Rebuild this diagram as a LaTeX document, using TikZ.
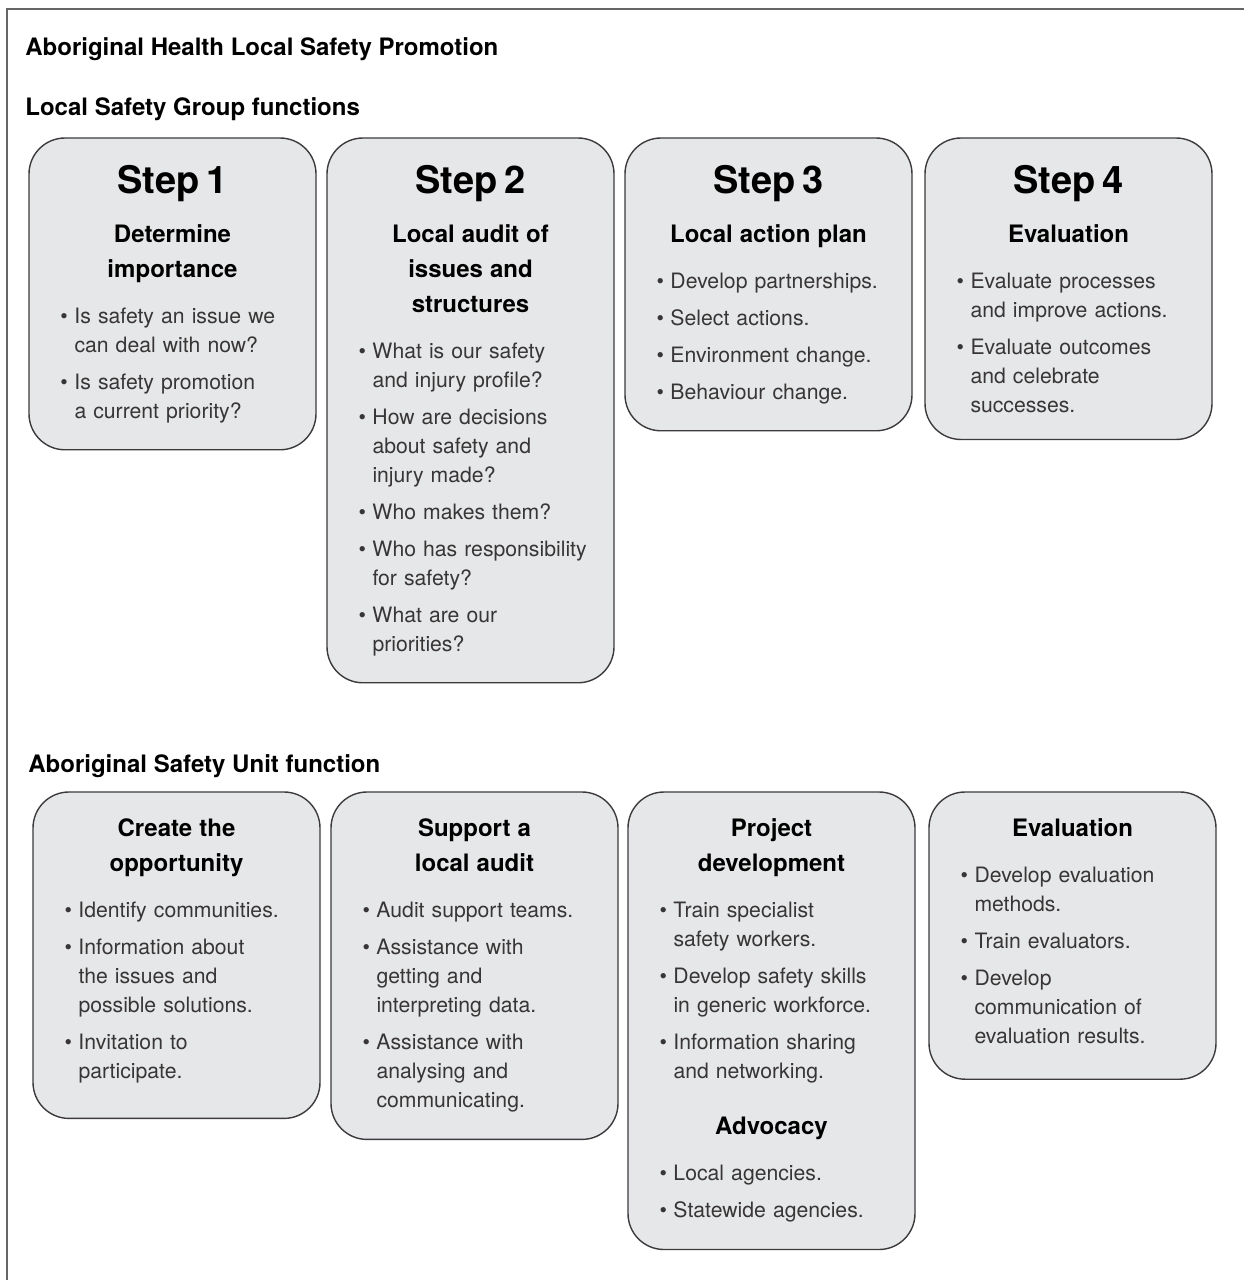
\documentclass[tikz,border=0pt]{standalone}
\usepackage{fontspec}
\setmainfont{TeX Gyre Heros}
\usetikzlibrary{positioning}

\definecolor{boxgray}{RGB}{230,231,232}
\definecolor{edgegray}{RGB}{60,58,60}
\definecolor{bodygray}{RGB}{55,53,53}

% box contents
\newcommand{\steptitle}[1]{{\centering\fontsize{19}{22}\selectfont\bfseries #1\par}\vspace{7pt}}
\newcommand{\heading}[1]{{\centering\fontsize{12}{17.5}\selectfont\bfseries #1\par}\vspace{8.5pt}}
\newcommand{\bitem}[1]{{\fontsize{10.6}{14.5}\selectfont\let\\\newline\leftskip=3.5pt\hangindent=7pt\hangafter=1\noindent{\color{bodygray}\makebox[7pt][l]{\textbullet}#1}\par}\vspace{4pt}}

\begin{document}
\begin{tikzpicture}[
        x=0.5pt, y=-0.5pt,
        title/.style={anchor=base west, inner sep=0pt, font=\fontsize{12}{14}\selectfont\bfseries},
        stepbox/.style={draw=edgegray, line width=0.7pt, fill=boxgray, rounded corners=18pt, text width=119pt, inner xsep=12.25pt, inner ysep=13.5pt, outer sep=0pt, align=left, anchor=north west, font=\fontsize{10.6}{14.5}\selectfont},
        frameline/.style={draw=black!60, line width=1pt}
    ]
        \useasboundingbox (0,0) rectangle (1244,1280);
        \draw [frameline] (7,1280) |- (1244,9);

        % Titles
        \node [title] (main) at (25,55) {Aboriginal Health Local Safety Promotion};
        \node [title] (group) at (25,115) {Local Safety Group functions};

        % Local Safety Group steps
        \node [stepbox] (s1) at (29,138) {\steptitle{Step 1}\heading{Determine\\importance}%
            \bitem{Is safety an issue we\\can deal with now?}\bitem{Is safety promotion\\a current priority?}};
        \node [stepbox, below right=0pt and 5.5pt of s1.north east] (s2) {\steptitle{Step 2}\heading{Local audit of\\issues and\\structures}%
            \bitem{What is our safety\\and injury profile?}\bitem{How are decisions\\about safety and\\injury made?}%
            \bitem{Who makes them?}\bitem{Who has responsibility\\for safety?}\bitem{What are our\\priorities?}};
        \node [stepbox, below right=0pt and 5.5pt of s2.north east] (s3) {\steptitle{Step 3}\heading{Local action plan}%
            \bitem{Develop partnerships.}\bitem{Select actions.}\bitem{Environment change.}\bitem{Behaviour change.}};
        \node [stepbox, below right=0pt and 6.5pt of s3.north east] (s4) {\steptitle{Step 4}\heading{Evaluation}%
            \bitem{Evaluate processes\\and improve actions.}\bitem{Evaluate outcomes\\and celebrate\\successes.}};

        % Aboriginal Safety Unit
        \node [title] (unit) at (28,772) {Aboriginal Safety Unit function};
        \node [stepbox] (u1) at (33,792) {\heading{Create the\\opportunity}%
            \bitem{Identify communities.}\bitem{Information about\\the issues and\\possible solutions.}\bitem{Invitation to\\participate.}\vspace{4pt}};
        \node [stepbox, below right=0pt and 5.5pt of u1.north east] (u2) {\heading{Support a\\local audit}%
            \bitem{Audit support teams.}\bitem{Assistance with\\getting and\\interpreting data.}\bitem{Assistance with\\analysing and\\communicating.}};
        \node [stepbox, below right=0pt and 5pt of u2.north east] (u3) {\heading{Project\\development}%
            \bitem{Train specialist\\safety workers.}\bitem{Develop safety skills\\in generic workforce.}\bitem{Information sharing\\and networking.}%
            \vspace{6.5pt}\heading{Advocacy}\bitem{Local agencies.}\bitem{Statewide agencies.}};
        \node [stepbox, below right=0pt and 7pt of u3.north east] (u4) {\heading{Evaluation}%
            \bitem{Develop evaluation\\methods.}\bitem{Train evaluators.}\bitem{Develop\\communication of\\evaluation results.}\vspace{3pt}};
    \end{tikzpicture}
\end{document}
